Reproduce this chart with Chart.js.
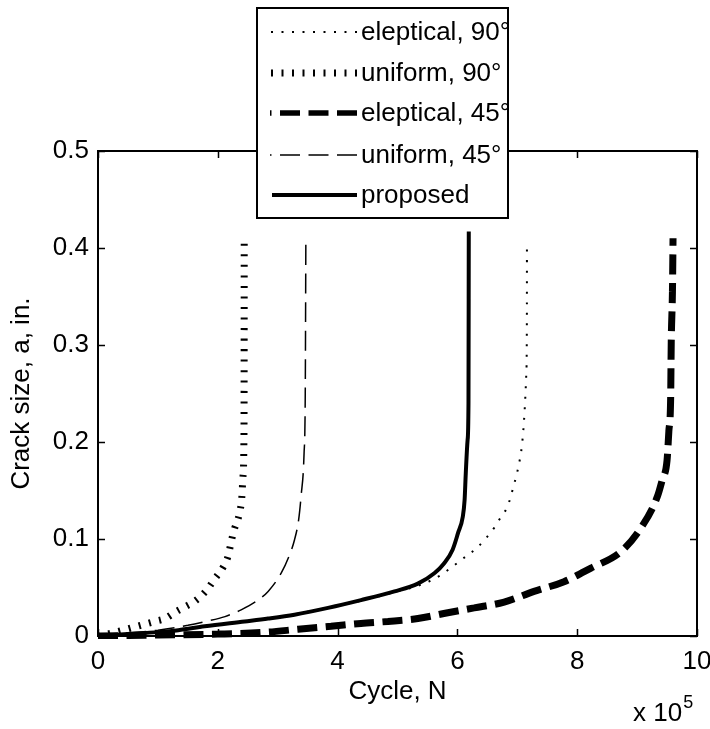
<!DOCTYPE html>
<html><head><meta charset="utf-8">
<style>html,body{margin:0;padding:0;background:#fff;}#wrap{width:710px;height:729px;}</style>
<script src="https://cdn.jsdelivr.net/npm/chart.js@4.4.1/dist/chart.umd.min.js"></script>
</head><body><div id="wrap"><canvas id="c" width="710" height="729"></canvas></div>
<script>
const seriesNames = ['eleptical, 90°', 'uniform, 90°', 'eleptical, 45°', 'uniform, 45°', 'proposed'];
const xTickLabels = ['0', '2', '4', '6', '8', '10'];
const yTickLabels = ['0', '0.1', '0.2', '0.3', '0.4', '0.5'];
const xTitle = 'Cycle, N';
const yTitle = 'Crack size, a, in.';
const xExponent = '5';

const ellip90X = [0, 0.5, 1.0, 1.5, 2.0, 2.5, 3.0, 3.5, 4.0, 4.5, 5.0, 5.4, 5.7, 5.95, 6.14, 6.31, 6.48, 6.62, 6.73, 6.84, 6.94, 7.02, 7.08, 7.12, 7.15, 7.16, 7.161];
const ellip90Y = [0, 0.002, 0.004, 0.008, 0.012, 0.015, 0.019, 0.025, 0.031, 0.038, 0.046, 0.053, 0.062, 0.073, 0.082, 0.090, 0.101, 0.112, 0.123, 0.134, 0.155, 0.175, 0.198, 0.23, 0.27, 0.33, 0.403];

const unif90X = [0, 0.3, 0.6, 0.95, 1.12, 1.3, 1.45, 1.64, 1.81, 1.95, 2.09, 2.17, 2.23, 2.28, 2.34, 2.38, 2.40, 2.42, 2.435, 2.44, 2.441];
const unif90Y = [0, 0.004, 0.009, 0.015, 0.018, 0.025, 0.030, 0.037, 0.047, 0.059, 0.071, 0.082, 0.099, 0.111, 0.121, 0.132, 0.142, 0.164, 0.196, 0.30, 0.41];

const ellip45X = [0, 1.0, 2.0, 2.84, 3.34, 3.89, 4.39, 4.84, 5.34, 5.84, 6.28, 6.78, 7.28, 7.78, 8.23, 8.73, 9.06, 9.34, 9.42, 9.50, 9.53, 9.56, 9.57, 9.59, 9.60];
const ellip45Y = [0, 0.001, 0.002, 0.004, 0.007, 0.010, 0.013, 0.015, 0.018, 0.024, 0.029, 0.035, 0.046, 0.056, 0.070, 0.087, 0.111, 0.144, 0.161, 0.181, 0.211, 0.245, 0.303, 0.355, 0.41];

const unif45X = [0, 0.5, 1.0, 1.5, 1.8, 2.12, 2.39, 2.67, 2.84, 3.06, 3.20, 3.28, 3.35, 3.39, 3.44, 3.46, 3.47];
const unif45Y = [0, 0.003, 0.006, 0.011, 0.015, 0.020, 0.027, 0.037, 0.046, 0.065, 0.084, 0.099, 0.120, 0.144, 0.188, 0.25, 0.41];

const propX = [0, 0.5, 1.0, 1.34, 1.78, 2.45, 2.84, 3.28, 3.84, 4.39, 4.95, 5.34, 5.62, 5.78, 5.92, 6.01, 6.09, 6.12, 6.14, 6.17, 6.185, 6.19];
const propY = [0, 0.002, 0.004, 0.006, 0.010, 0.015, 0.018, 0.022, 0.029, 0.037, 0.046, 0.054, 0.065, 0.075, 0.089, 0.106, 0.123, 0.140, 0.168, 0.202, 0.24, 0.417];

const FONT = '"Liberation Sans", Arial, sans-serif';
const pts = (xs, ys) => xs.map((v, i) => ({x: v, y: ys[i]}));

const styles = [
  {w: 2, dash: [2, 8.5]},
  {w: 7, dash: [2, 8.5]},
  {w: 7, dash: [20, 8.5]},
  {w: 1.5, dash: [20, 8.5]},
  {w: 4, dash: []}
];
const seriesData = [pts(ellip90X, ellip90Y), pts(unif90X, unif90Y), pts(ellip45X, ellip45Y), pts(unif45X, unif45Y), pts(propX, propY)];

const datasets = seriesNames.map((n, i) => ({
  label: n, data: seriesData[i], showLine: true, pointRadius: 0,
  borderColor: '#000', backgroundColor: '#000', borderWidth: styles[i].w,
  borderDash: styles[i].dash, borderCapStyle: 'butt', borderJoinStyle: 'bevel',
  cubicInterpolationMode: 'monotone', fill: false, clip: 3
}));

const framePlugin = {
  id: 'frame',
  afterDatasetsDraw(chart) {
    const {ctx, chartArea: a, scales: {x, y}} = chart;
    ctx.save();
    ctx.strokeStyle = '#000';
    ctx.lineWidth = 1.5;
    ctx.setLineDash([]);
    const L = 7;
    x.ticks.forEach(t => {
      const p = Math.round(x.getPixelForValue(t.value)) + 0.5;
      ctx.beginPath();
      ctx.moveTo(p, a.bottom); ctx.lineTo(p, a.bottom - L);
      ctx.moveTo(p, a.top); ctx.lineTo(p, a.top + L);
      ctx.stroke();
    });
    y.ticks.forEach(t => {
      const p = Math.round(y.getPixelForValue(t.value)) + 0.5;
      ctx.beginPath();
      ctx.moveTo(a.left, p); ctx.lineTo(a.left + L, p);
      ctx.moveTo(a.right, p); ctx.lineTo(a.right - L, p);
      ctx.stroke();
    });
    ctx.lineWidth = 2;
    ctx.strokeRect(a.left, a.top, a.right - a.left, a.bottom - a.top);
    ctx.restore();
  },
  afterDraw(chart) {
    const ctx = chart.ctx;
    ctx.save();
    const bx = 257, by = 8, bw = 251, bh = 210;
    ctx.fillStyle = '#fff';
    ctx.fillRect(bx, by, bw, bh);
    ctx.strokeStyle = '#000';
    ctx.lineWidth = 2;
    ctx.setLineDash([]);
    ctx.strokeRect(bx, by, bw, bh);
    const rowY = [32, 73, 113, 155, 195];
    chart.data.datasets.forEach((ds, i) => {
      const yy = rowY[i];
      ctx.save();
      ctx.beginPath();
      ctx.rect(bx + 1, by + 1, bw - 2, bh - 2);
      ctx.clip();
      ctx.strokeStyle = '#000';
      ctx.lineWidth = i === 2 ? 5.5 : ds.borderWidth;
      ctx.lineCap = 'butt';
      ctx.setLineDash(ds.borderDash);
      ctx.beginPath();
      ctx.moveTo(357, yy); ctx.lineTo(ds.borderDash.length ? 270 : 272, yy);
      ctx.stroke();
      ctx.setLineDash([]);
      ctx.fillStyle = '#000';
      ctx.font = '26px ' + FONT;
      ctx.textBaseline = 'middle';
      ctx.textAlign = 'left';
      ctx.fillText(ds.label, 361, yy + 1);
      ctx.restore();
    });
    ctx.fillStyle = '#000';
    ctx.textBaseline = 'alphabetic';
    ctx.textAlign = 'left';
    ctx.font = '26px ' + FONT;
    const base = 'x 10';
    ctx.fillText(base, 633, 721);
    const w = ctx.measureText(base).width;
    ctx.font = '18px ' + FONT;
    ctx.fillText(xExponent, 633 + w + 1, 708);
    ctx.restore();
  }
};

new Chart(document.getElementById('c'), {
  type: 'scatter',
  data: {datasets},
  options: {
    responsive: false, animation: false,
    layout: {padding: {top: 151, right: 0, left: 0, bottom: 0}},
    plugins: {legend: {display: false}, tooltip: {enabled: false}},
    scales: {
      x: {
        type: 'linear', min: 0, max: 10,
        grid: {display: false, drawTicks: false},
        border: {display: false},
        ticks: {stepSize: 2, padding: 10, color: '#000', font: {family: FONT, size: 26},
          maxRotation: 0, autoSkip: false, callback: (v, i) => xTickLabels[i]},
        title: {display: true, text: xTitle, color: '#000', font: {family: FONT, size: 26},
          padding: {top: 0, bottom: 22}},
        afterFit: s => { s.height = 93; s.paddingRight = 13; }
      },
      y: {
        type: 'linear', min: 0, max: 0.5,
        grid: {display: false, drawTicks: false},
        border: {display: false},
        ticks: {stepSize: 0.1, padding: 9, color: '#000', font: {family: FONT, size: 26},
          autoSkip: false, callback: (v, i) => yTickLabels[i]},
        title: {display: true, text: yTitle, color: '#000', font: {family: FONT, size: 26},
          padding: {top: 6, bottom: 0}},
        afterFit: s => { s.width = 98; }
      }
    }
  },
  plugins: [framePlugin]
});
</script></body></html>
